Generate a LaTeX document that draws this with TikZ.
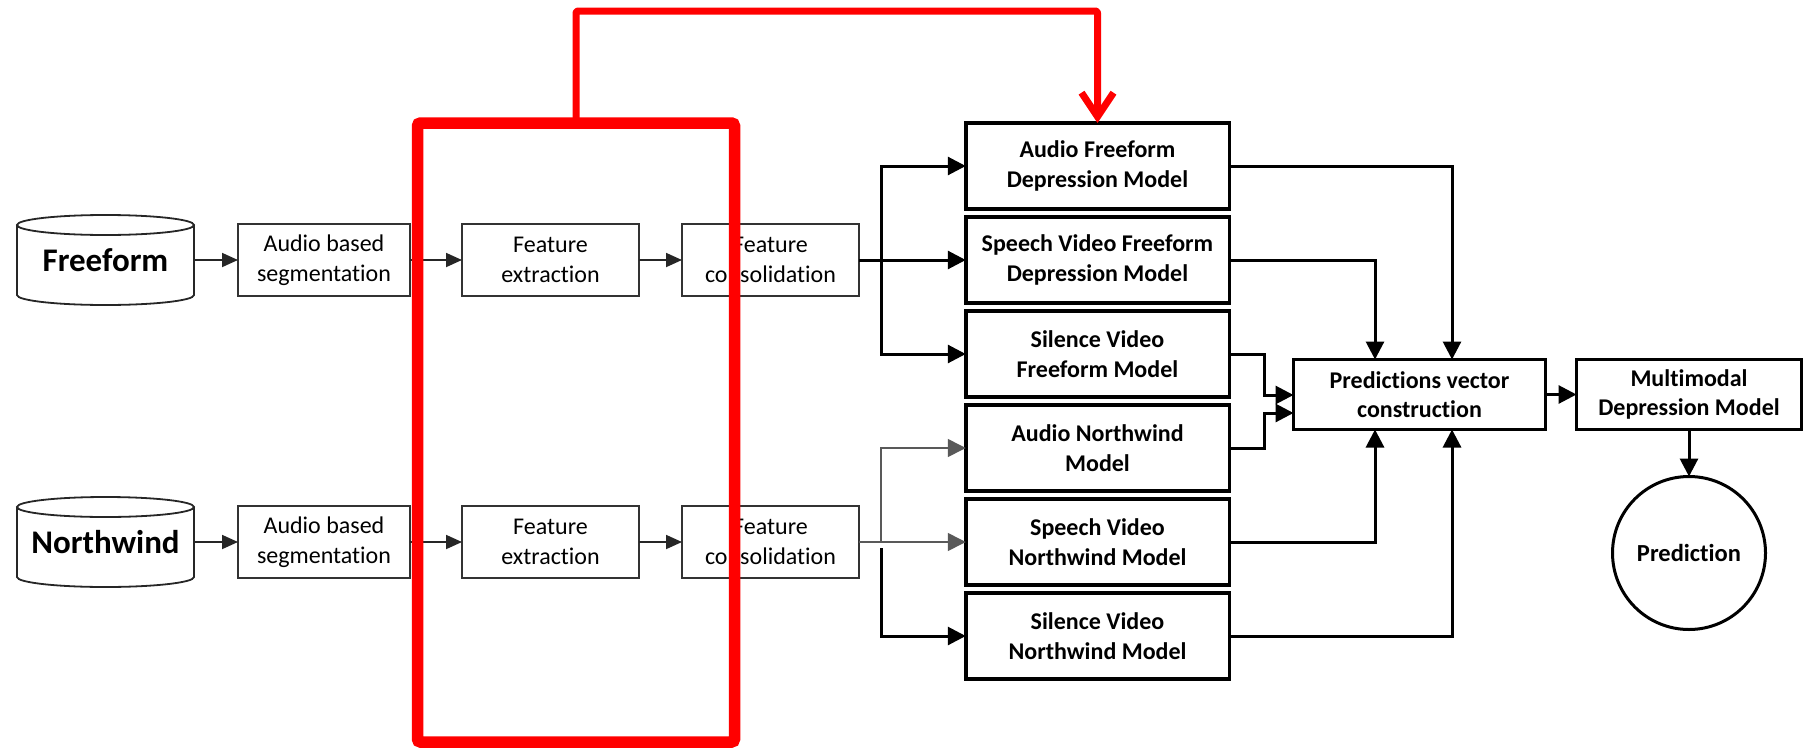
\documentclass[tikz,border=0pt]{standalone}
\usepackage{fontspec}
\setmainfont{Carlito}[RawFeature={-liga;-clig;-dlig}]
\usetikzlibrary{arrows.meta,calc}
\begin{document}
\begin{tikzpicture}[x=1pt,y=-1pt,
 lbox/.style={draw=black!80, line width=1.8pt, minimum height=72pt, inner sep=0pt, outer sep=0pt, align=center, font=\fontsize{24}{29.5}\selectfont},
 mbox/.style={draw=black, line width=3.5pt, minimum width=263.5pt, minimum height=86pt, inner sep=0pt, outer sep=0pt, align=center, font=\bfseries\fontsize{24}{29.6}\selectfont},
 pbox/.style={draw=black, line width=3pt, minimum height=70pt, inner sep=0pt, outer sep=0pt, align=center, font=\bfseries\fontsize{24}{29.6}\selectfont},
 cyltext/.style={minimum width=177pt, minimum height=90pt, inner sep=0pt, outer sep=0pt, font=\bfseries\fontsize{33}{40}\selectfont},
 cyl/.style={draw=black!85, line width=1.8pt},
 larrow/.style={draw=black!85, line width=1.8pt, -{Triangle[length=16pt,width=14pt]}},
 marrow/.style={draw=black, line width=3pt, -{Triangle[length=18pt,width=18pt]}},
 thinline/.style={draw=black!65, line width=1.6pt},
 thinarrow/.style={thinline, -{Triangle[length=18pt,width=18pt]}},
 mline/.style={draw=black, line width=3pt},
 redbox/.style={draw=red, line width=11.5pt, rounded corners=3pt, inner sep=0pt, outer sep=0pt},
 redarrow/.style={draw=red, line width=7pt, line join=round, rounded corners=2pt, -{Straight Barb[length=24pt,width=32pt]}},
 ]
\useasboundingbox (0,0) rectangle (1807,747);

% sources
\node[cyltext] (ff) at (105.5,260) {Freeform};
\draw[cyl] ($(ff.north west)+(0,10)$) -- ($(ff.south west)+(0,-10)$) arc[start angle=180,end angle=0,x radius=88.5,y radius=10] -- ($(ff.north east)+(0,10)$);
\draw[cyl] ($(ff.north)+(0,10)$) ellipse[x radius=88.5, y radius=10];
\node[cyltext] (nw) at (105.5,542) {Northwind};
\draw[cyl] ($(nw.north west)+(0,10)$) -- ($(nw.south west)+(0,-10)$) arc[start angle=180,end angle=0,x radius=88.5,y radius=10] -- ($(nw.north east)+(0,10)$);
\draw[cyl] ($(nw.north)+(0,10)$) ellipse[x radius=88.5, y radius=10];

% left column boxes
\node[lbox, minimum width=172pt] (seg1) at (324,260) {Audio based\\segmentation};
\node[lbox, minimum width=177pt] (fe1) at (550.5,260) {Feature\\extraction};
\node[lbox, minimum width=177pt] (fc1) at (770.5,260) {Feature\\consolidation};
\node[lbox, minimum width=172pt] (seg2) at (324,542) {Audio based\\segmentation};
\node[lbox, minimum width=177pt] (fe2) at (550.5,542) {Feature\\extraction};
\node[lbox, minimum width=177pt] (fc2) at (770.5,542) {Feature\\consolidation};

\draw[larrow] (ff) -- (seg1);
\draw[larrow] (seg1) -- (fe1);
\draw[larrow] (fe1) -- (fc1);
\draw[larrow] (nw) -- (seg2);
\draw[larrow] (seg2) -- (fe2);
\draw[larrow] (fe2) -- (fc2);

% model boxes
\node[mbox] (m1) at (1097.5,166) {Audio Freeform\\Depression Model};
\node[mbox] (m2) at (1097.5,260) {Speech Video Freeform\\Depression Model};
\node[mbox] (m3) at (1097.5,354) {Silence Video\\Freeform Model};
\node[mbox] (m4) at (1097.5,448) {Audio Northwind\\Model};
\node[mbox] (m5) at (1097.5,542) {Speech Video\\Northwind Model};
\node[mbox] (m6) at (1097.5,636) {Silence Video\\Northwind Model};

% buses
\coordinate (b1) at (881,260);
\draw[mline] (fc1.east) -- (b1);
\draw[marrow] (b1) -- (m2);
\draw[marrow] (b1) |- (m1);
\draw[marrow] (b1) |- (m3);
\coordinate (b2) at (881,542);
\coordinate (b2s) at (881,548);
\draw[thinline] (fc2.east) -- (b2);
\draw[thinarrow] (b2) -- (m5);
\draw[thinarrow] (b2) |- (m4);
\draw[marrow] (b2s) |- (m6);

% predictions
\node[pbox, minimum width=252pt] (pred) at (1419.5,394.5) {Predictions vector\\construction};
\node[pbox, minimum width=225pt] (mm) at (1689,394.5) {Multimodal\\Depression Model};
\node[circle, draw=black, line width=3pt, minimum size=153pt, inner sep=0pt, outer sep=0pt, font=\bfseries\fontsize{24.5}{29.6}\selectfont] (out) at (1689,553) {Prediction};

\coordinate (xa) at (1375,0);
\coordinate (xb) at (1452,0);
\coordinate (bx) at (1264,0);
\coordinate (pl1) at ($(pred.west)+(0,0.5)$);
\coordinate (pl2) at ($(pred.west)+(0,18.5)$);

\draw[marrow] (m1.east) -| (xb |- pred.north);
\draw[marrow] (m2.east) -| (xa |- pred.north);
\draw[marrow] (m5.east) -| (xa |- pred.south);
\draw[marrow] (m6.east) -| (xb |- pred.south);
\draw[marrow] (m3.east) -| (bx |- pl1) -- (pl1);
\draw[marrow] (m4.east) -| (bx |- pl2) -- (pl2);
\draw[marrow] (pred) -- (mm);
\draw[marrow] (mm) -- (out);

% red highlight
\node[redbox, minimum width=317pt, minimum height=619pt] (hl) at (576,432.5) {};
\draw[redarrow] (hl.north) -- ++(0,-112) -| (m1.north);
\end{tikzpicture}
\end{document}
